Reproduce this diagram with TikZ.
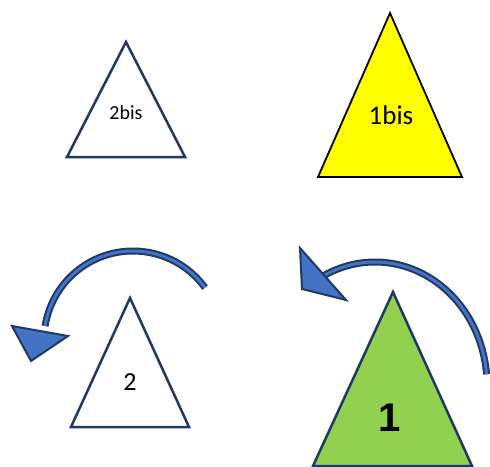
\documentclass[tikz,border=0pt]{standalone}
\usepackage{fontspec}
\setmainfont{Carlito}
\newfontfamily\arialbold{Liberation Sans}[BoldFont={* Bold}]
\definecolor{navy}{HTML}{1F3864}
\definecolor{arrblue}{HTML}{4472C4}
\definecolor{grn}{HTML}{92D050}
\definecolor{yel}{HTML}{FFFF00}
\tikzset{
  tri/.style={draw=navy, line width=2.5pt, line join=miter},
  lbl/.style={inner sep=0pt, text=black},
  bandout/.style={draw=navy, line width=7pt},
  bandin/.style={draw=arrblue, line width=3pt},
  head/.style={draw=navy, fill=arrblue, line width=2pt, line join=miter},
}
\begin{document}
\begin{tikzpicture}[x=1pt, y=-1pt]
\useasboundingbox (0,0) rectangle (490,466);
\clip (0,0) rectangle (490,466);
% triangles
\draw[tri, fill=white] (126,42) -- (185,157) -- (67,157) -- cycle;
\node[lbl, font=\fontsize{20}{22}\selectfont] (t2bis) at (126,113) {2bis};
\draw[draw=black, line width=1.8pt, fill=yel, line join=miter] (390,13) -- (462,177) -- (318,177) -- cycle;
\node[lbl, font=\fontsize{27}{30}\selectfont] (t1bis) at (391,115) {1bis};
\draw[tri, fill=white] (130,298) -- (189,427) -- (71,427) -- cycle;
\node[lbl, font=\fontsize{26}{28}\selectfont] (t2) at (130,382) {2};
\draw[tri, fill=grn] (393,292) -- (472,466) -- (313,466) -- cycle;
\node[lbl, font=\arialbold\bfseries\fontsize{40}{44}\selectfont] (t1) at (390,418) {1};
% left curved arrow (circle centre (133,340), r=89)
\coordinate (lc) at (133,340);
\foreach \st in {bandout,bandin}
  \draw[\st] ([shift={(-36:89)}]lc) arc[start angle=-36, end angle=-171, radius=89];
\draw[head] (12,326) -- (68,336) -- (31,361) -- cycle;
% right curved arrow (ellipse centre (375,385), rx=112, ry=123)
\coordinate (rc) at (375,385);
\foreach \st in {bandout,bandin}
  \draw[\st] ([shift={(-5:112 and 123)}]rc) arc[start angle=-5, end angle=-117, x radius=112, y radius=123];
\draw[head] (300,248) -- (346,300) -- (302,289) -- cycle;
\end{tikzpicture}
\end{document}
